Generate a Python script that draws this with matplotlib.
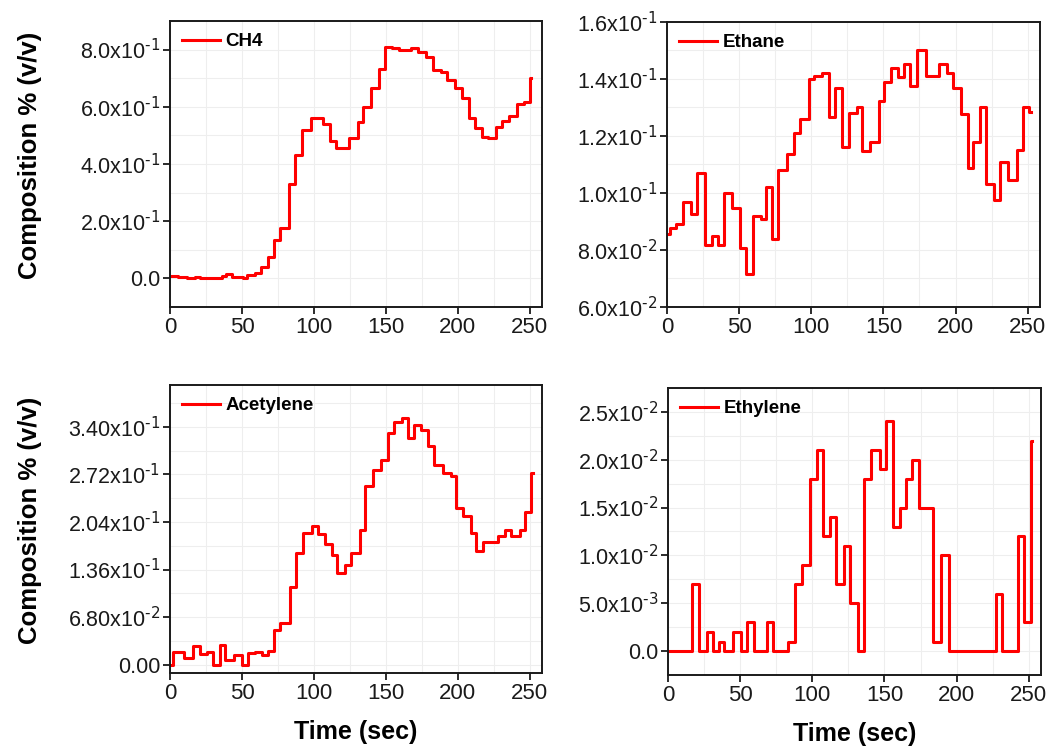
import matplotlib
matplotlib.use('Agg')
import matplotlib.pyplot as plt
from matplotlib.ticker import FixedLocator, MultipleLocator

plt.rcParams['font.family'] = ['Liberation Sans', 'DejaVu Sans']
plt.rcParams['mathtext.default'] = 'regular'
plt.rcParams['axes.unicode_minus'] = False

# CH4 (step changes: time, value)
ch4_t = [0, 5.8, 11.5, 17.3, 20.8, 25.4, 35.8, 39.2, 43.4, 50.8, 53.6, 58.9, 63.5, 68.1,
         72.3, 76.6, 82.6, 86.6, 91.9, 98.1, 106.2, 111.5, 115.4, 124.2, 130.4, 134.3,
         139.7, 145.4, 149.6, 154.2, 159.3, 163.9, 167.4, 172.0, 177.7, 182.4, 188.1,
         192.8, 198.0, 202.7, 207.8, 211.9, 216.5, 221.1, 226.2, 230.8, 235.5, 241.2,
         245.8, 250.0, 251.0]
ch4_v = [0.010, 0.005, 0.000, 0.006, 0.003, 0.000, 0.010, 0.017, 0.005, 0.000, 0.012, 0.020,
         0.040, 0.076, 0.134, 0.175, 0.330, 0.430, 0.520, 0.560, 0.540, 0.480, 0.455, 0.490,
         0.547, 0.600, 0.666, 0.733, 0.810, 0.805, 0.800, 0.797, 0.807, 0.793, 0.775, 0.730,
         0.722, 0.693, 0.664, 0.630, 0.562, 0.524, 0.495, 0.490, 0.530, 0.550, 0.567, 0.610,
         0.615, 0.700, 0.700]

# Ethane
eth_t = [0, 1.9, 6.5, 11.1, 16.9, 20.9, 26.2, 31.5, 35.5, 39.4, 44.8, 50.6, 54.7, 59.4,
         65.2, 68.6, 72.6, 77.2, 83.5, 87.7, 92.3, 98.6, 102.0, 107.4, 112.0, 116.7, 121.3,
         125.9, 131.7, 135.2, 140.5, 146.8, 150.3, 155.6, 160.3, 164.2, 168.4, 173.5, 179.3,
         188.5, 194.3, 198.5, 203.6, 208.3, 212.4, 217.1, 221.0, 226.8, 231.0, 236.1, 242.6,
         246.5, 250.7, 252.0]
eth_v = [0.0856, 0.0876, 0.089, 0.097, 0.0928, 0.107, 0.0817, 0.0849, 0.0817, 0.100, 0.0948,
         0.0808, 0.0716, 0.0919, 0.0907, 0.1021, 0.0837, 0.108, 0.1138, 0.121, 0.126, 0.140,
         0.1411, 0.142, 0.1266, 0.137, 0.1161, 0.128, 0.130, 0.1147, 0.1179, 0.1324, 0.139,
         0.144, 0.1408, 0.1452, 0.1377, 0.150, 0.1409, 0.1452, 0.142, 0.1368, 0.1278, 0.1088,
         0.1179, 0.130, 0.1031, 0.0977, 0.1109, 0.1047, 0.1152, 0.130, 0.1285, 0.1285]

# Acetylene
ace_t = [0, 1.9, 9.8, 16.3, 20.5, 25.6, 30.2, 34.9, 38.4, 44.2, 50.0, 54.0, 59.3, 64.0,
         67.9, 72.1, 76.7, 83.3, 87.2, 92.6, 98.8, 102.8, 107.4, 112.3, 116.3, 121.6, 125.6,
         131.9, 135.3, 140.7, 146.5, 151.2, 155.8, 160.9, 165.1, 169.3, 174.4, 179.1, 183.7,
         189.5, 195.3, 198.8, 203.5, 208.8, 212.8, 217.4, 227.9, 232.6, 237.2, 243.0, 246.5,
         251.0, 252.0]
ace_v = [0.000, 0.0177, 0.0095, 0.026, 0.015, 0.0177, 0.000, 0.0277, 0.0072, 0.0143, 0.000,
         0.0167, 0.0177, 0.0134, 0.019, 0.049, 0.0596, 0.111, 0.159, 0.188, 0.198, 0.187,
         0.173, 0.157, 0.131, 0.143, 0.159, 0.193, 0.256, 0.279, 0.293, 0.331, 0.347, 0.353,
         0.324, 0.343, 0.336, 0.313, 0.285, 0.274, 0.270, 0.224, 0.212, 0.188, 0.162, 0.175,
         0.184, 0.192, 0.184, 0.193, 0.219, 0.274, 0.274]

# Ethylene
ety_t = [0, 16.9, 21.6, 26.7, 31.3, 35.5, 39.0, 44.8, 50.6, 54.5, 59.8, 68.4, 73.1, 83.5,
         87.7, 92.8, 98.6, 103.2, 107.4, 112.5, 116.7, 121.8, 125.9, 131.5, 135.7, 140.8,
         146.8, 151.0, 155.6, 160.7, 165.1, 169.3, 173.9, 183.9, 189.0, 194.8, 227.3, 231.2,
         242.3, 247.0, 251.6, 252.0]
ety_v = [0.0, 0.007, 0.0, 0.002, 0.0, 0.001, 0.0, 0.002, 0.0, 0.003, 0.0, 0.003, 0.0, 0.001,
         0.007, 0.009, 0.018, 0.021, 0.012, 0.014, 0.007, 0.011, 0.005, 0.0, 0.018, 0.021,
         0.019, 0.024, 0.013, 0.015, 0.018, 0.020, 0.015, 0.001, 0.010, 0.0, 0.006, 0.0,
         0.012, 0.003, 0.022, 0.022]

# tick labels
ch4_ticks = [0.0, 0.2, 0.4, 0.6, 0.8]
ch4_labels = ['0.0', '2.0x10$^{\\text{-1}}$', '4.0x10$^{\\text{-1}}$', '6.0x10$^{\\text{-1}}$',
              '8.0x10$^{\\text{-1}}$']
eth_ticks = [0.06, 0.08, 0.10, 0.12, 0.14, 0.16]
eth_labels = ['6.0x10$^{\\text{-2}}$', '8.0x10$^{\\text{-2}}$', '1.0x10$^{\\text{-1}}$',
              '1.2x10$^{\\text{-1}}$', '1.4x10$^{\\text{-1}}$', '1.6x10$^{\\text{-1}}$']
ace_ticks = [0.0, 0.068, 0.136, 0.204, 0.272, 0.340]
ace_labels = ['0.00', '6.80x10$^{\\text{-2}}$', '1.36x10$^{\\text{-1}}$', '2.04x10$^{\\text{-1}}$',
              '2.72x10$^{\\text{-1}}$', '3.40x10$^{\\text{-1}}$']
ety_ticks = [0.0, 0.005, 0.010, 0.015, 0.020, 0.025]
ety_labels = ['0.0', '5.0x10$^{\\text{-3}}$', '1.0x10$^{\\text{-2}}$', '1.5x10$^{\\text{-2}}$',
              '2.0x10$^{\\text{-2}}$', '2.5x10$^{\\text{-2}}$']

fig = plt.figure(figsize=(10.47, 7.48), dpi=100)

panels = [
    # position, t, v, name, ylim, ticks, labels, ylabel, xlabel
    ([0.1624, 0.5896, 0.3553, 0.3824], ch4_t, ch4_v, 'CH4', (-0.1, 0.9), ch4_ticks, ch4_labels, True, False),
    ([0.6370, 0.5896, 0.3563, 0.3810], eth_t, eth_v, 'Ethane', (0.06, 0.16), eth_ticks, eth_labels, False, False),
    ([0.1624, 0.1003, 0.3553, 0.3850], ace_t, ace_v, 'Acetylene', (-0.012, 0.40), ace_ticks, ace_labels, True, True),
    ([0.6380, 0.0976, 0.3563, 0.3837], ety_t, ety_v, 'Ethylene', (-0.0025, 0.0275), ety_ticks, ety_labels, False, True),
]

for pos, t, v, name, ylim, ticks, labels, ylab, xlab in panels:
    ax = fig.add_axes(pos)
    ax.plot(t, v, color='#ff0000', lw=2.2, drawstyle='steps-post', label=name)
    ax.set_xlim(0, 258.5)
    ax.set_ylim(*ylim)
    ax.xaxis.set_major_locator(MultipleLocator(50))
    ax.xaxis.set_minor_locator(MultipleLocator(25))
    ax.yaxis.set_major_locator(FixedLocator(ticks))
    step = ticks[1] - ticks[0]
    ax.yaxis.set_minor_locator(FixedLocator([x + step / 2 for x in ticks]))
    ax.set_yticklabels(labels)
    ax.tick_params(which='major', direction='out', length=5, width=1.3, pad=2,
                   top=False, right=False, colors='#1a1a1a')
    ax.tick_params(axis='x', labelsize=16)
    ax.tick_params(axis='y', labelsize=15.5)
    ax.tick_params(which='minor', length=0)
    ax.grid(True, which='both', color='#eeeeee', lw=0.8)
    ax.set_axisbelow(True)
    for s in ax.spines.values():
        s.set_linewidth(1.4)
        s.set_color('#1a1a1a')
    ax.legend(loc='upper left', frameon=False, handlelength=2.0, handletextpad=0.3,
              borderaxespad=0.25, prop={'weight': 'bold', 'size': 13.5})
    if ylab:
        ax.set_ylabel('Composition % (v/v)', fontsize=18.5, fontweight='bold')
        ax.yaxis.set_label_coords(-0.345, 0.53)
    if xlab:
        ax.set_xlabel('Time (sec)', fontsize=18, fontweight='bold', labelpad=12)

fig.savefig('out.png', dpi=100)
